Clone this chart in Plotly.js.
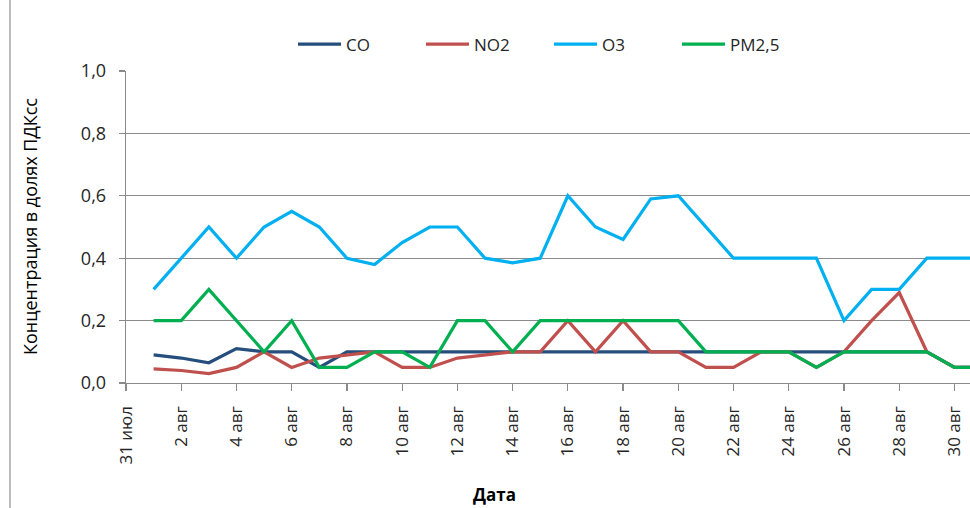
<!DOCTYPE html>
<html>
<head>
<meta charset="utf-8">
<script src="https://cdn.plot.ly/plotly-3.0.1.min.js"></script>
<style>html,body{margin:0;padding:0;background:#fff;}#chart{width:970px;height:508px;}</style>
</head>
<body>
<div id="chart"></div>
<script>
const dates = ['2023-08-01','2023-08-02','2023-08-03','2023-08-04','2023-08-05','2023-08-06','2023-08-07','2023-08-08','2023-08-09','2023-08-10',
  '2023-08-11','2023-08-12','2023-08-13','2023-08-14','2023-08-15','2023-08-16','2023-08-17','2023-08-18','2023-08-19','2023-08-20',
  '2023-08-21','2023-08-22','2023-08-23','2023-08-24','2023-08-25','2023-08-26','2023-08-27','2023-08-28','2023-08-29','2023-08-30','2023-08-31'];
const CO = [0.09,0.08,0.065,0.11,0.1,0.1,0.05,0.1,0.1,0.1, 0.1,0.1,0.1,0.1,0.1,0.1,0.1,0.1,0.1,0.1, 0.1,0.1,0.1,0.1,0.1,0.1,0.1,0.1,0.1,0.05,0.05];
const NO2 = [0.045,0.04,0.03,0.05,0.1,0.05,0.08,0.09,0.1,0.05, 0.05,0.08,0.09,0.1,0.1,0.2,0.1,0.2,0.1,0.1, 0.05,0.05,0.1,0.1,0.05,0.1,0.2,0.29,0.1,0.05,0.05];
const O3 = [0.3,0.4,0.5,0.4,0.5,0.55,0.5,0.4,0.38,0.45, 0.5,0.5,0.4,0.385,0.4,0.6,0.5,0.46,0.59,0.6, 0.5,0.4,0.4,0.4,0.4,0.2,0.3,0.3,0.4,0.4,0.4];
const PM25 = [0.2,0.2,0.3,0.2,0.1,0.2,0.05,0.05,0.1,0.1, 0.05,0.2,0.2,0.1,0.2,0.2,0.2,0.2,0.2,0.2, 0.1,0.1,0.1,0.1,0.05,0.1,0.1,0.1,0.1,0.05,0.05];
const seriesNames = ['CO','NO2','O3','PM2,5'];
const tickDates = ['2023-07-31','2023-08-02','2023-08-04','2023-08-06','2023-08-08','2023-08-10','2023-08-12','2023-08-14','2023-08-16',
  '2023-08-18','2023-08-20','2023-08-22','2023-08-24','2023-08-26','2023-08-28','2023-08-30'];
const tickLabels = ['31 июл','2 авг','4 авг','6 авг','8 авг','10 авг','12 авг','14 авг','16 авг','18 авг','20 авг','22 авг','24 авг','26 авг','28 авг','30 авг'];
const yTitle = 'Концентрация в долях ПДКсс';
const xTitle = 'Дата';

const colors = ['#254E7D','#C0504D','#00B0F0','#00B050'];
const values = [CO, NO2, O3, PM25];
const FONT = 'Open Sans, Liberation Sans, sans-serif';
const TXT = '#262626';

const traces = values.map((v, i) => ({
  x: dates, y: v, name: seriesNames[i], type: 'scatter', mode: 'lines',
  line: {color: colors[i], width: 3.2},
  hoverinfo: 'skip'
}));

const layout = {
  width: 970, height: 508,
  margin: {l: 126, r: 0, t: 70.7, b: 124.7},
  paper_bgcolor: '#fff', plot_bgcolor: '#fff',
  separators: ', ',
  font: {family: FONT, size: 17, color: TXT},
  showlegend: true,
  legend: {
    orientation: 'h', x: (293-126)/844, xanchor: 'left', y: 1.085, yanchor: 'middle',
    entrywidth: 70, entrywidthmode: 'pixels', itemwidth: 43,
    font: {family: FONT, size: 17, color: TXT},
    bgcolor: 'rgba(0,0,0,0)', traceorder: 'normal'
  },
  xaxis: {
    type: 'date',
    range: ['2023-07-31', '2023-08-30 13:30'],
    tickmode: 'array', tickvals: tickDates, ticktext: tickLabels,
    tickangle: -90,
    ticks: 'outside', ticklen: 7, tickcolor: '#8a8a8a', tickwidth: 1.3,
    showline: true, linecolor: '#8a8a8a', linewidth: 1.3,
    showgrid: false, zeroline: false,
    ticklabelstandoff: 8,
    tickfont: {family: FONT, size: 17, color: TXT}
  },
  yaxis: {
    range: [0, 1], tickmode: 'array', tickvals: [0,0.2,0.4,0.6,0.8,1.0],
    tickformat: '.1f',
    ticks: 'outside', ticklen: 6, tickcolor: '#8a8a8a', tickwidth: 1.3,
    showline: true, linecolor: '#8a8a8a', linewidth: 1.3,
    showgrid: true, gridcolor: '#8a8a8a', gridwidth: 1.3,
    zeroline: false,
    ticklabelstandoff: 9,
    tickfont: {family: FONT, size: 18, color: TXT}
  },
  annotations: [
    {text: yTitle, xref: 'paper', yref: 'paper', x: (30-126)/844, y: 0.5, textangle: -90,
     showarrow: false, xanchor: 'center', yanchor: 'middle', font: {family: FONT, size: 18, color: '#000'}},
    {text: '<b>' + xTitle + '</b>', xref: 'paper', yref: 'paper', x: (494-126)/844, y: -(495-383.3)/312.6,
     showarrow: false, xanchor: 'center', yanchor: 'middle', font: {family: FONT, size: 17, color: '#000'}}
  ],
  shapes: [
    {type: 'line', xref: 'paper', yref: 'paper', x0: (10-126)/844, x1: (10-126)/844, y0: -2, y1: 2,
     line: {color: '#a6a6a6', width: 1.5}}
  ]
};

Plotly.newPlot('chart', traces, layout, {staticPlot: true, displayModeBar: false});
</script>
</body>
</html>
